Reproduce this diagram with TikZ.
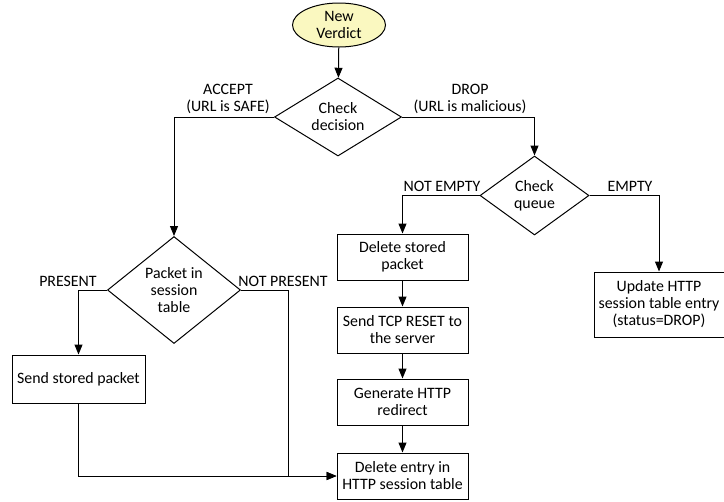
\documentclass[tikz,border=0pt]{standalone}
\usepackage{fontspec}
\setmainfont{Carlito}
\usetikzlibrary{shapes.geometric,arrows.meta}
\definecolor{startfill}{RGB}{250,248,192}
\begin{document}
\begin{tikzpicture}[x=0.75pt,y=-0.75pt,
  every node/.style={font=\fontsize{11.9}{12.8}\selectfont},
  box/.style={draw,rectangle,align=center,inner sep=0pt,line width=0.75pt,minimum width=98.25pt,minimum height=34.5pt},
  dec/.style={draw,diamond,align=center,inner sep=0pt,line width=0.75pt},
  lbl/.style={align=center,inner sep=0pt,anchor=south},
  conn/.style={line width=0.75pt,-{Triangle[length=7.5pt,width=6pt]}},
  plain/.style={line width=0.75pt}]
\useasboundingbox (0,0) rectangle (724,501);
\node[draw,ellipse,fill=startfill,line width=0.75pt,align=center,inner sep=0pt,minimum width=69.75pt,minimum height=33pt] (nv) at (339,25) {New\\Verdict};
\node[dec,aspect=1.63,minimum width=95.25pt,minimum height=58.5pt] (cd) at (338,117) {Check\\decision};
\node[dec,aspect=1.38,minimum width=81.75pt,minimum height=59.25pt] (cq) at (534.5,195.5) {Check\\queue};
\node[dec,aspect=1.24,minimum width=99.75pt,minimum height=80.25pt] (pk) at (174,290) {Packet in\\session\\table};
\node[box] (dsp) at (402.5,257) {Delete stored\\packet};
\node[box] (rst) at (402.5,330) {Send TCP RESET to\\the server};
\node[box] (gen) at (402.5,402) {Generate HTTP\\redirect};
\node[box] (del) at (402.5,476) {Delete entry in\\HTTP session table};
\node[box,minimum width=97.5pt,minimum height=48.75pt] (upd) at (659,304.5) {Update HTTP\\session table entry\\(status=DROP)};
\node[box,minimum width=99.75pt,minimum height=36pt] (ssp) at (78.5,379) {Send stored packet};
\coordinate (npx) at (288,0);
\draw[conn] (nv) -- (cd);
\draw[conn] (cd.west) -| (pk.north);
\draw[conn] (cd.east) -| (cq.north);
\draw[conn] (cq.west) -| (dsp.north);
\draw[conn] (cq.east) -| (upd.north);
\draw[conn] (pk.west) -| (ssp.north);
\draw[conn] (dsp) -- (rst);
\draw[conn] (rst) -- (gen);
\draw[conn] (gen) -- (del);
\draw[conn] (ssp.south) |- (del.west);
\draw[conn] (pk.east) -- (pk.east -| npx) |- (del.west);
\node[lbl] (la) at (228,114) {ACCEPT\\(URL is SAFE)};
\node[lbl] (ld) at (470,114) {DROP\\(URL is malicious)};
\node[lbl] (lne) at (442,192) {NOT EMPTY};
\node[lbl] (le) at (630,192) {EMPTY};
\node[lbl] (lp) at (68,287) {PRESENT};
\node[lbl] (lnp) at (283,287) {NOT PRESENT};
\end{tikzpicture}
\end{document}
